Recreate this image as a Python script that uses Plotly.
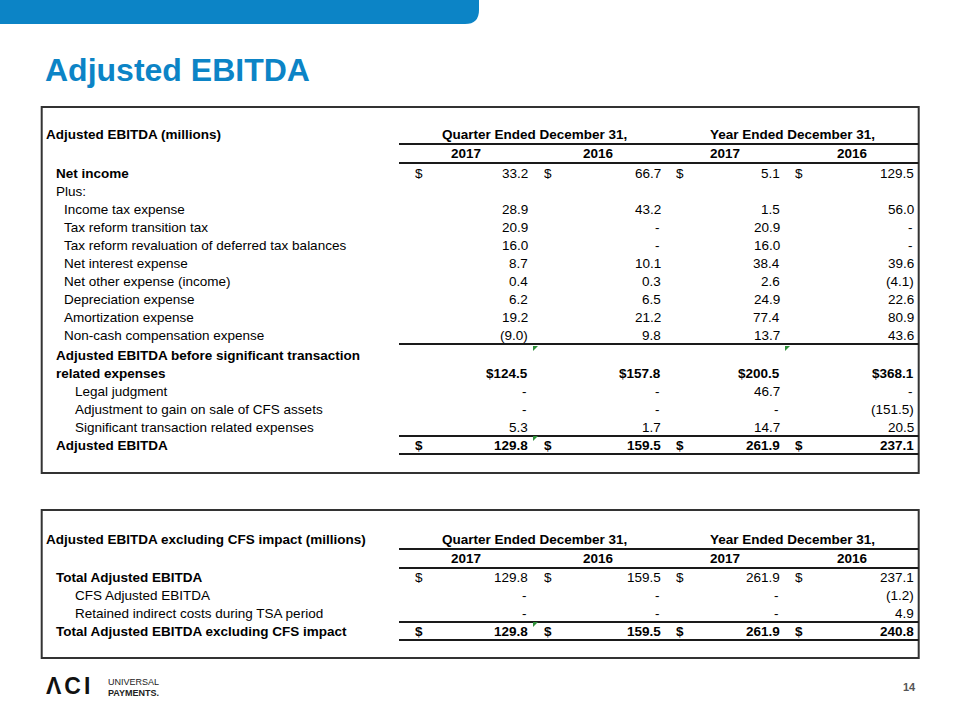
import plotly.graph_objects as go

# ------------------------------------------------------------------ data
slide_title = "Adjusted EBITDA"
col_groups = ["Quarter Ended December 31,", "Year Ended December 31,"]
col_years = ["2017", "2016", "2017", "2016"]

t1_title = "Adjusted EBITDA (millions)"
t1_labels = [
    "Net income",
    "Plus:",
    "Income tax expense",
    "Tax reform transition tax",
    "Tax reform revaluation of deferred tax balances",
    "Net interest expense",
    "Net other expense (income)",
    "Depreciation expense",
    "Amortization expense",
    "Non-cash compensation expense",
    "Adjusted EBITDA before significant transaction",
    "related expenses",
    "Legal judgment",
    "Adjustment to gain on sale of CFS assets",
    "Significant transaction related expenses",
    "Adjusted EBITDA",
]
# None = empty cell, 0.0 = "-"
t1_q2017 = [33.2, None, 28.9, 20.9, 16.0, 8.7, 0.4, 6.2, 19.2, -9.0, None, 124.5, 0.0, 0.0, 5.3, 129.8]
t1_q2016 = [66.7, None, 43.2, 0.0, 0.0, 10.1, 0.3, 6.5, 21.2, 9.8, None, 157.8, 0.0, 0.0, 1.7, 159.5]
t1_y2017 = [5.1, None, 1.5, 20.9, 16.0, 38.4, 2.6, 24.9, 77.4, 13.7, None, 200.5, 46.7, 0.0, 14.7, 261.9]
t1_y2016 = [129.5, None, 56.0, 0.0, 0.0, 39.6, -4.1, 22.6, 80.9, 43.6, None, 368.1, 0.0, -151.5, 20.5, 237.1]

t2_title = "Adjusted EBITDA excluding CFS impact (millions)"
t2_labels = [
    "Total Adjusted EBITDA",
    "CFS Adjusted EBITDA",
    "Retained indirect costs during TSA period",
    "Total Adjusted EBITDA excluding CFS impact",
]
t2_q2017 = [129.8, 0.0, 0.0, 129.8]
t2_q2016 = [159.5, 0.0, 0.0, 159.5]
t2_y2017 = [261.9, 0.0, 0.0, 261.9]
t2_y2016 = [237.1, -1.2, 4.9, 240.8]

page_number = "14"

# ------------------------------------------------------------------ styling / layout
FONT = "Arial, 'Liberation Sans', Helvetica, sans-serif"
BLUE = "#0C84C6"
INK = "#000000"
LINE = "#1a1a1a"
GREEN = "#2F8F3A"

t1_indent = [1, 1, 2, 2, 2, 2, 2, 2, 2, 2, 1, 1, 3, 3, 3, 1]
t1_bold = [True, False, False, False, False, False, False, False, False, False, True, True, False, False, False, True]
t1_val_bold = [False] * 11 + [True, False, False, False, True]
t1_dollar = [True] + [False] * 14 + [True]
t1_inline_dollar = [False] * 11 + [True, False, False, False, False]
t1_lines_after = [9, 14, 15]
t1_marks = [(10, 0), (10, 2), (15, 0)]
t1_gap_from = 10   # extra spacing below the first subtotal rule

t2_indent = [1, 3, 3, 1]
t2_bold = [True, False, False, True]
t2_val_bold = [False, False, False, True]
t2_dollar = [True, False, False, True]
t2_inline_dollar = [False] * 4
t2_lines_after = [2, 3]
t2_marks = [(3, 0)]
t2_gap_from = 99

indent_x = {0: 45, 1: 55, 2: 63, 3: 74}
dollar_x = [414, 543, 675, 794]
value_right = [529, 662, 781, 915]
year_center = [465.5, 598, 724.5, 852]
group_center = [534, 792]
box_left, box_right = 41.7, 918.7
rule_left = 399
FS = 13.5

annotations = []
shapes = []


def fmt(v, inline_dollar):
    if v is None:
        return ""
    if v == 0:
        return "-"
    s = f"{abs(v):,.1f}"
    if v < 0:
        s = f"({s})"
    if inline_dollar:
        s = "$" + s
    return s


def text(x, y, s, size=FS, bold=False, anchor="left", color=INK):
    annotations.append(dict(
        x=x, y=y, xref="x", yref="y", text=(f"<b>{s}</b>" if bold else s),
        showarrow=False, xanchor=anchor, yanchor="middle", borderpad=0,
        font=dict(family=FONT, size=size, color=color),
    ))


def hline(y, x0=rule_left, x1=box_right, w=2):
    shapes.append(dict(type="line", xref="x", yref="y", x0=x0, x1=x1, y0=y, y1=y,
                       line=dict(color=LINE, width=w)))


def draw_table(top, bottom, title, labels, cols, indent, bold, vbold, dollar,
               inline_dollar, lines_after, marks, header_y, first_row_y, pitch, gap_from):
    shapes.append(dict(type="rect", xref="x", yref="y", x0=box_left, x1=box_right,
                       y0=top, y1=bottom, line=dict(color="#333333", width=2)))
    text(indent_x[0], header_y, title, bold=True)
    for g, c in zip(col_groups, group_center):
        text(c, header_y, g, bold=True, anchor="center")
    hline(header_y + 10)
    years_y = header_y + 19.5
    for yr, c in zip(col_years, year_center):
        text(c, years_y, yr, bold=True, anchor="center")
    hline(years_y + 9.5)
    ys = []
    for i, lab in enumerate(labels):
        y = first_row_y + i * pitch + (2 if i >= gap_from else 0)
        ys.append(y)
        text(indent_x[indent[i]], y, lab, bold=bold[i])
        for j, col in enumerate(cols):
            s = fmt(col[i], inline_dollar[i])
            if s:
                if s == "-":
                    text(value_right[j] - 1, y, s, bold=vbold[i], anchor="right")
                else:
                    text(value_right[j], y, s, bold=vbold[i], anchor="right")
            if dollar[i]:
                text(dollar_x[j], y, "$", bold=vbold[i], anchor="left")
    for i in lines_after:
        hline(ys[i] + 9)
    for (i, j) in marks:
        x0 = value_right[j] + 4
        y0 = ys[i] - 9
        shapes.append(dict(type="path", xref="x", yref="y",
                           path=f"M{x0},{y0} L{x0+5},{y0} L{x0},{y0+5} Z",
                           fillcolor=GREEN, line=dict(width=0)))


draw_table(107, 473, t1_title, t1_labels, [t1_q2017, t1_q2016, t1_y2017, t1_y2016],
           t1_indent, t1_bold, t1_val_bold, t1_dollar, t1_inline_dollar,
           t1_lines_after, t1_marks, header_y=134, first_row_y=173, pitch=18, gap_from=t1_gap_from)

draw_table(510, 658, t2_title, t2_labels, [t2_q2017, t2_q2016, t2_y2017, t2_y2016],
           t2_indent, t2_bold, t2_val_bold, t2_dollar, t2_inline_dollar,
           t2_lines_after, t2_marks, header_y=539, first_row_y=577, pitch=18, gap_from=t2_gap_from)

# banner
shapes.append(dict(type="path", xref="x", yref="y",
                   path="M0,0 L479,0 L479,10 Q479,24 465,24 L0,24 Z",
                   fillcolor=BLUE, line=dict(width=0), layer="below"))
# title
text(44, 70, slide_title, size=32, bold=True, color=BLUE)

# logo
text(45, 686, '<span style="letter-spacing:3px">ΛCI</span>', size=23, bold=True, color="#111111")
text(107, 681.5, "UNIVERSAL", size=9, color="#222222")
text(107, 692.5, "PAYMENTS.", size=9, bold=True, color="#222222")
# page number
text(909, 687, page_number, size=11, bold=True, color="#555555", anchor="center")

fig = go.Figure()
fig.update_layout(
    width=960, height=720,
    margin=dict(l=0, r=0, t=0, b=0),
    paper_bgcolor="white", plot_bgcolor="white",
    xaxis=dict(range=[0, 960], visible=False, fixedrange=True),
    yaxis=dict(range=[720, 0], visible=False, fixedrange=True),
    showlegend=False,
    annotations=annotations,
    shapes=shapes,
)
fig.write_html(
    "out.html",
    config={"displayModeBar": False},
    post_script="document.body.style.margin='0';document.body.style.overflow='hidden';",
)
